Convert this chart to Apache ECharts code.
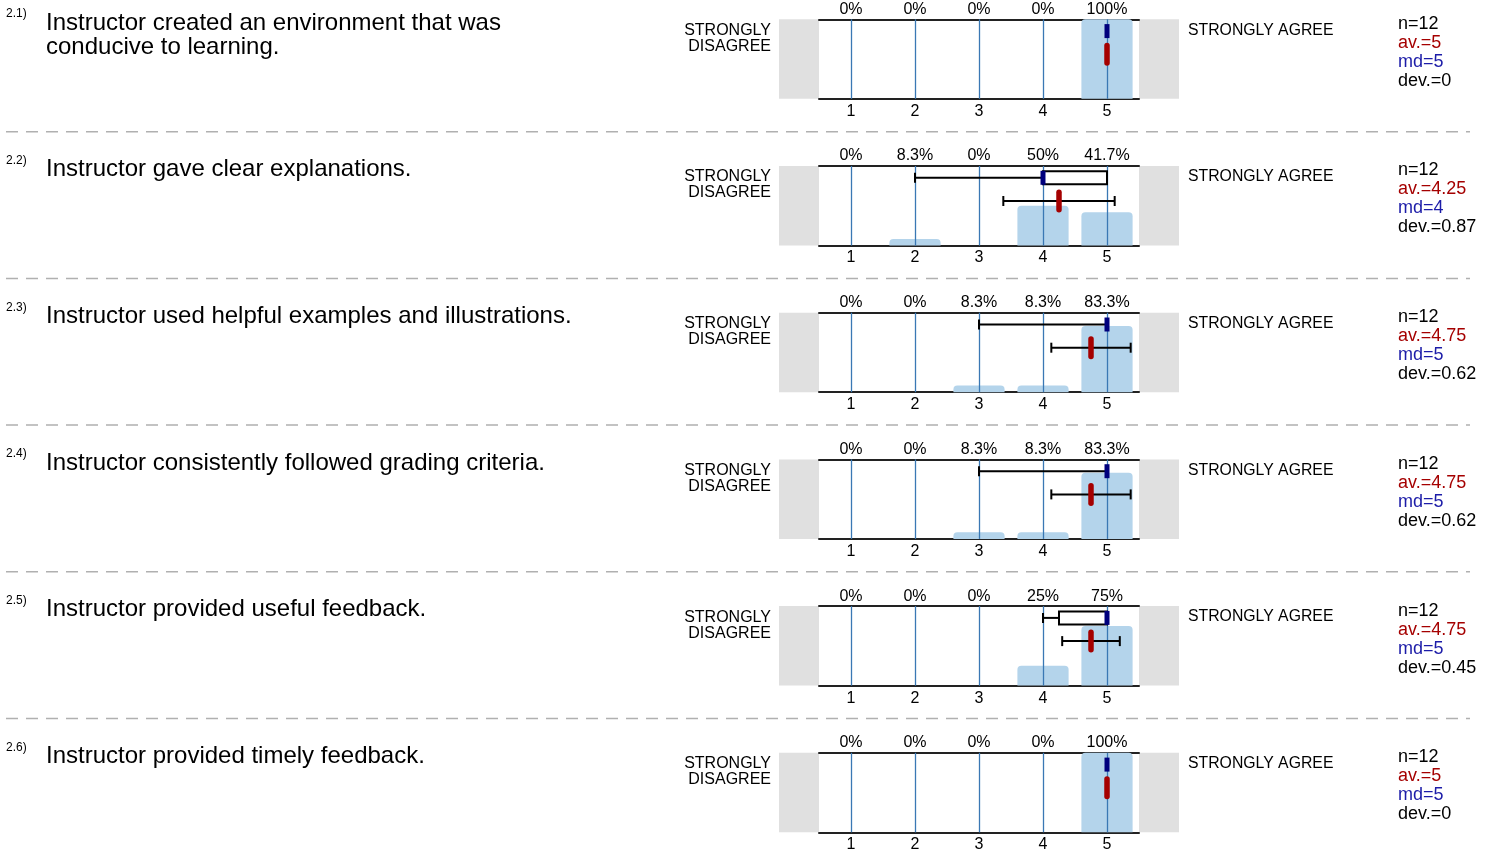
<!DOCTYPE html>
<html>
<head>
<meta charset="utf-8">
<script src="https://cdn.jsdelivr.net/npm/echarts@6/dist/echarts.min.js"></script>
<style>
html,body{margin:0;padding:0;background:#fff;}
#chart{width:1497px;height:861px;}
</style>
</head>
<body>
<div id="chart"></div>
<script>
// ---- data ----
const questionNums = ['2.1)', '2.2)', '2.3)', '2.4)', '2.5)', '2.6)'];
const questions = [
  'Instructor created an environment that was\nconducive to learning.',
  'Instructor gave clear explanations.',
  'Instructor used helpful examples and illustrations.',
  'Instructor consistently followed grading criteria.',
  'Instructor provided useful feedback.',
  'Instructor provided timely feedback.'
];
const scaleLabels = ['1', '2', '3', '4', '5'];
const scaleValues = [1, 2, 3, 4, 5];
const leftPole = 'STRONGLY\nDISAGREE';
const rightPole = 'STRONGLY AGREE';
const percents = [
  [0, 0, 0, 0, 100],
  [0, 8.3, 0, 50, 41.7],
  [0, 0, 8.3, 8.3, 83.3],
  [0, 0, 8.3, 8.3, 83.3],
  [0, 0, 0, 25, 75],
  [0, 0, 0, 0, 100]
];
const nVals = [12, 12, 12, 12, 12, 12];
const avVals = [5, 4.25, 4.75, 4.75, 4.75, 5];
const mdVals = [5, 4, 5, 5, 5, 5];
const devVals = [0, 0.87, 0.62, 0.62, 0.45, 0];
// whisker low, Q1, Q3, whisker high
const boxLow = [5, 2, 3, 3, 4, 5];
const boxQ1 = [5, 4, 5, 5, 4.25, 5];
const boxQ3 = [5, 5, 5, 5, 5, 5];
const boxHigh = [5, 5, 5, 5, 5, 5];

// ---- layout ----
const ROW_H = 146.7, GRID_TOP0 = 19.3, GRID_H = 79.5, GRID_LEFT = 819, GRID_W = 320;
const FONT = '"Liberation Sans", Arial, Helvetica, sans-serif';
const BAR_COLOR = '#b4d4eb';
const GRID_COLOR = '#3a78b4';
const RED = '#a50000';
const NAVY = '#00007d';

const chart = echarts.init(document.getElementById('chart'), null, { renderer: 'canvas' });

const grids = [], xAxes = [], yAxes = [], series = [], graphics = [];

function fmtPct(v) { return String(v) + '%'; }

for (let i = 0; i < questions.length; i++) {
  const top = GRID_TOP0 + ROW_H * i;
  grids.push({ left: GRID_LEFT, width: GRID_W, top: top, height: GRID_H, containLabel: false });
  const axisLine = { show: true, lineStyle: { color: '#222', width: 2 } };
  xAxes.push({
    type: 'category', gridIndex: i, position: 'bottom', data: scaleLabels,
    axisLine: axisLine, axisTick: { show: false }, splitLine: { show: false },
    axisLabel: { color: '#000', fontSize: 16, fontFamily: FONT, margin: 4.5 }
  });
  xAxes.push({
    type: 'category', gridIndex: i, position: 'top', data: percents[i].map(fmtPct),
    axisLine: axisLine, axisTick: { show: false }, splitLine: { show: false },
    axisLabel: { color: '#000', fontSize: 16, fontFamily: FONT, margin: 2 }
  });
  xAxes.push({ type: 'value', gridIndex: i, min: 0.5, max: 5.5, show: false });
  yAxes.push({ type: 'value', gridIndex: i, min: 0, max: 100, show: false });

  series.push({
    type: 'bar', xAxisIndex: 3 * i, yAxisIndex: i, data: percents[i],
    barWidth: '80%', z: 1, silent: true,
    itemStyle: { color: BAR_COLOR, borderRadius: [4, 4, 0, 0] }
  });
  series.push({
    type: 'custom', xAxisIndex: 3 * i + 2, yAxisIndex: i, data: scaleValues, z: 2, silent: true,
    renderItem: function (params, api) {
      const v = api.value(0);
      const p0 = api.coord([v, 0]);
      const p1 = api.coord([v, 100]);
      return { type: 'line', shape: { x1: Math.round(p0[0]) + 0.5, y1: p0[1], x2: Math.round(p0[0]) + 0.5, y2: p1[1] },
        style: { stroke: GRID_COLOR, lineWidth: 1.3 } };
    }
  });
  series.push({
    type: 'custom', xAxisIndex: 3 * i + 2, yAxisIndex: i, z: 3, silent: true,
    dimensions: ['low', 'q1', 'q3', 'high', 'md', 'av', 'dev'],
    data: [[boxLow[i], boxQ1[i], boxQ3[i], boxHigh[i], mdVals[i], avVals[i], devVals[i]]],
    renderItem: function (params, api) {
      const low = api.value(0), q1 = api.value(1), q3 = api.value(2), high = api.value(3);
      const md = api.value(4), av = api.value(5), dev = api.value(6);
      const X = (v) => api.coord([v, 0])[0];
      const topY = api.coord([1, 100])[1];
      const by = topY + 11.8, bh = 13;
      const my = topY + 35, mh = 23;
      const capH = 10;
      const ls = { stroke: '#000', lineWidth: 2 };
      const ch = [];
      if (low < q1) {
        ch.push({ type: 'line', shape: { x1: X(low), y1: by, x2: X(q1), y2: by }, style: ls });
        ch.push({ type: 'line', shape: { x1: X(low), y1: by - capH / 2, x2: X(low), y2: by + capH / 2 }, style: ls });
      }
      if (high > q3) {
        ch.push({ type: 'line', shape: { x1: X(q3), y1: by, x2: X(high), y2: by }, style: ls });
        ch.push({ type: 'line', shape: { x1: X(high), y1: by - capH / 2, x2: X(high), y2: by + capH / 2 }, style: ls });
      }
      if (q3 > q1) {
        ch.push({ type: 'rect', shape: { x: X(q1), y: by - bh / 2, width: X(q3) - X(q1), height: bh },
          style: { fill: '#fff', stroke: '#000', lineWidth: 2 } });
      }
      ch.push({ type: 'rect', shape: { x: X(md) - 2.5, y: by - bh / 2 - 0.5, width: 5, height: bh + 1 },
        style: { fill: NAVY } });
      if (dev > 0) {
        ch.push({ type: 'line', shape: { x1: X(av - dev), y1: my, x2: X(av + dev), y2: my }, style: ls });
        ch.push({ type: 'line', shape: { x1: X(av - dev), y1: my - capH / 2, x2: X(av - dev), y2: my + capH / 2 }, style: ls });
        ch.push({ type: 'line', shape: { x1: X(av + dev), y1: my - capH / 2, x2: X(av + dev), y2: my + capH / 2 }, style: ls });
      }
      ch.push({ type: 'rect', shape: { x: X(av) - 2.75, y: my - mh / 2, width: 5.5, height: mh, r: 2.75 },
        style: { fill: RED } });
      return { type: 'group', children: ch };
    }
  });

  // gray side boxes
  graphics.push({ type: 'rect', left: 779, top: top, shape: { width: 40, height: GRID_H }, style: { fill: '#e0e0e0' }, z: 0, silent: true });
  graphics.push({ type: 'rect', left: 1139, top: top, shape: { width: 40, height: GRID_H }, style: { fill: '#e0e0e0' }, z: 0, silent: true });

  const base = ROW_H * i;
  const txt = (text, x, y, size, color, align, lh) => ({
    type: 'text', x: x, y: y, silent: true, z: 10,
    style: { text: text, fill: color, font: size + 'px ' + FONT, fontSize: size, fontFamily: FONT,
      textAlign: align, align: align, textVerticalAlign: 'middle', verticalAlign: 'middle', lineHeight: lh || size * 1.1 }
  });
  graphics.push(txt(questionNums[i], 6, base + 14, 12, '#000', 'left'));
  const qLines = questions[i].split('\n');
  qLines.forEach((ln, k) => graphics.push(txt(ln, 46, base + 23 + 24 * k, 24, '#000', 'left')));
  const lp = leftPole.split('\n');
  lp.forEach((ln, k) => graphics.push(txt(ln, 771, top + 11 + 16 * k, 16, '#000', 'right')));
  graphics.push(txt(rightPole, 1188, top + 11, 15.8, '#000', 'left'));
  graphics.push(txt('n=' + nVals[i], 1398, top + 4.5, 18, '#000', 'left'));
  graphics.push(txt('av.=' + avVals[i], 1398, top + 23.5, 18, RED, 'left'));
  graphics.push(txt('md=' + mdVals[i], 1398, top + 42.5, 18, '#1c1ca8', 'left'));
  graphics.push(txt('dev.=' + devVals[i], 1398, top + 61.5, 18, '#000', 'left'));

  if (i < questions.length - 1) {
    graphics.push({ type: 'line', silent: true, z: 0,
      shape: { x1: 6, y1: base + 131.7, x2: 1470, y2: base + 131.7 },
      style: { stroke: '#b0b0b0', lineWidth: 1.5, lineDash: [12, 8] } });
  }
}

chart.setOption({
  animation: false,
  backgroundColor: '#fff',
  textStyle: { fontFamily: FONT },
  grid: grids,
  xAxis: xAxes,
  yAxis: yAxes,
  series: series,
  graphic: graphics
});
</script>
</body>
</html>
